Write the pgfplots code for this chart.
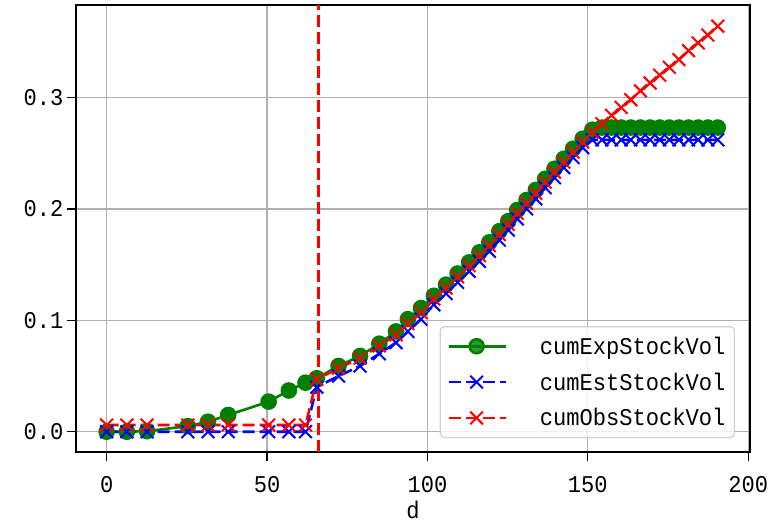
\documentclass[border=0pt]{standalone}
\usepackage{fontspec}
\setmainfont[FakeStretch=0.92]{Liberation Mono}
\usepackage{pgfplots}
\pgfplotsset{compat=1.18}
\definecolor{mplgreen}{RGB}{0,128,0}
\definecolor{gridgray}{RGB}{176,176,176}
\newcommand{\chartfont}{\fontsize{24bp}{28bp}\selectfont}

\begin{document}
\begin{tikzpicture}
\begin{axis}[
  name=ax,
  scale only axis,
  width=674bp, height=447bp,
  xmin=-9.55, xmax=200.55,
  ymin=-0.0182, ymax=0.383,
  xtick={0,50,100,150,200},
  ytick={0,0.1,0.2,0.3},
  xtick pos=bottom, ytick pos=left,
  tick align=outside,
  major tick length=9bp,
  tick style={black, line width=1.3bp},
  axis line style={black, line width=1.6bp},
  grid=major,
  grid style={gridgray, line width=1.3bp},
  /pgf/number format/assume math mode=true,
  yticklabel style={/pgf/number format/.cd, fixed, fixed zerofill, precision=1},
  xticklabel style={yshift=-12bp},
  ticklabel style={font=\chartfont},
  label style={font=\chartfont},
  xlabel={d},
  xlabel style={inner sep=0pt, yshift=-5bp},
  legend cell align=left,
  legend style={
    at={(0.9777,0.0313)}, anchor=south east,
    font=\chartfont,
    draw=black!18, line width=1.2bp, rounded corners=4bp,
    fill=white, fill opacity=0.8, text opacity=1,
    inner xsep=7bp, inner ysep=8bp,
    row sep=13bp
  },
  legend image code/.code={%
    \draw[mark repeat=2,mark phase=2,#1] plot coordinates {(0bp,0bp) (28bp,0bp) (57bp,0bp)};},
]

\addplot[mplgreen, line width=2.6bp, mark=*, mark size=7bp,
  mark options={fill=mplgreen, draw=mplgreen}]
coordinates {
  (0,0) (6.3,0) (12.6,0.0005) (25.3,0.005) (31.6,0.009) (37.9,0.015)
  (50.5,0.027) (56.8,0.037) (62.0,0.044) (65.5,0.048)
  (72.3,0.059) (79.0,0.068) (85.0,0.079) (90.2,0.090) (93.9,0.101)
  (98.0,0.111) (102.0,0.122) (105.8,0.132) (109.4,0.142) (113.0,0.152)
  (116.2,0.161) (119.3,0.170) (122.4,0.180) (125.2,0.189) (128.0,0.199)
  (130.9,0.208) (133.8,0.217) (136.7,0.227) (139.6,0.236) (142.5,0.245)
  (145.4,0.254) (148.4,0.263) (151.4,0.271)
  (154.4,0.273) (157.4,0.273) (160.4,0.273) (163.4,0.273) (166.4,0.273)
  (169.4,0.273) (172.4,0.273) (175.4,0.273) (178.4,0.273) (181.4,0.273)
  (184.4,0.273) (187.4,0.273) (190.5,0.273)
};
\addlegendentry{\hspace{31bp}cumExpStockVol}

\addplot[blue, line width=2.6bp, dash pattern=on 12bp off 5bp,
  mark=x, mark size=9bp, mark options={solid, line width=2bp}]
coordinates {
  (0,0) (6.3,0) (12.6,0) (25.3,0) (31.6,0) (37.9,0)
  (50.5,0) (56.8,0) (62.0,0) (65.5,0.040)
  (72.3,0.050) (79.0,0.059) (85.0,0.070) (90.2,0.080) (93.9,0.090)
  (98.0,0.101) (102.0,0.114) (105.8,0.124) (109.4,0.134) (113.0,0.144)
  (116.2,0.153) (119.3,0.162) (122.4,0.172) (125.2,0.181) (128.0,0.191)
  (130.9,0.200) (133.8,0.209) (136.7,0.219) (139.6,0.228) (142.5,0.237)
  (145.4,0.246) (148.4,0.255) (151.4,0.262)
  (154.4,0.262) (157.4,0.262) (160.4,0.262) (163.4,0.262) (166.4,0.262)
  (169.4,0.262) (172.4,0.262) (175.4,0.262) (178.4,0.262) (181.4,0.262)
  (184.4,0.262) (187.4,0.262) (190.5,0.262)
};
\addlegendentry{\hspace{31bp}cumEstStockVol}

\addplot[red, line width=2.6bp, dash pattern=on 12bp off 5bp,
  mark=x, mark size=9bp, mark options={solid, line width=2bp}]
coordinates {
  (0,0.006) (6.3,0.006) (12.6,0.006) (25.3,0.006) (31.6,0.006) (37.9,0.006)
  (50.5,0.006) (56.8,0.006) (62.0,0.006) (65.5,0.047)
  (72.3,0.057) (79.0,0.066) (85.0,0.077) (90.2,0.087) (93.9,0.097)
  (98.0,0.107) (102.0,0.119) (105.8,0.129) (109.4,0.139) (113.0,0.149)
  (116.2,0.158) (119.3,0.167) (122.4,0.177) (125.2,0.186) (128.0,0.196)
  (130.9,0.205) (133.8,0.214) (136.7,0.224) (139.6,0.233) (142.5,0.242)
  (145.4,0.251) (148.4,0.260) (151.4,0.269)
  (154.4,0.2765) (157.4,0.284) (160.4,0.291) (163.4,0.298) (166.4,0.306)
  (169.4,0.313) (172.4,0.320) (175.4,0.327) (178.4,0.334) (181.4,0.342)
  (184.4,0.349) (187.4,0.356) (190.5,0.364)
};
\addlegendentry{\hspace{31bp}cumObsStockVol}

\addplot[red, line width=2.6bp, dash pattern=on 12bp off 5bp, forget plot]
coordinates {(66,-0.0182) (66,0.383)};

\end{axis}
\pgfresetboundingbox
\path[use as bounding box] ([xshift=-76bp,yshift=-70bp]ax.south west)
  rectangle ([xshift=19bp,yshift=5bp]ax.north east);
\end{tikzpicture}
\end{document}
